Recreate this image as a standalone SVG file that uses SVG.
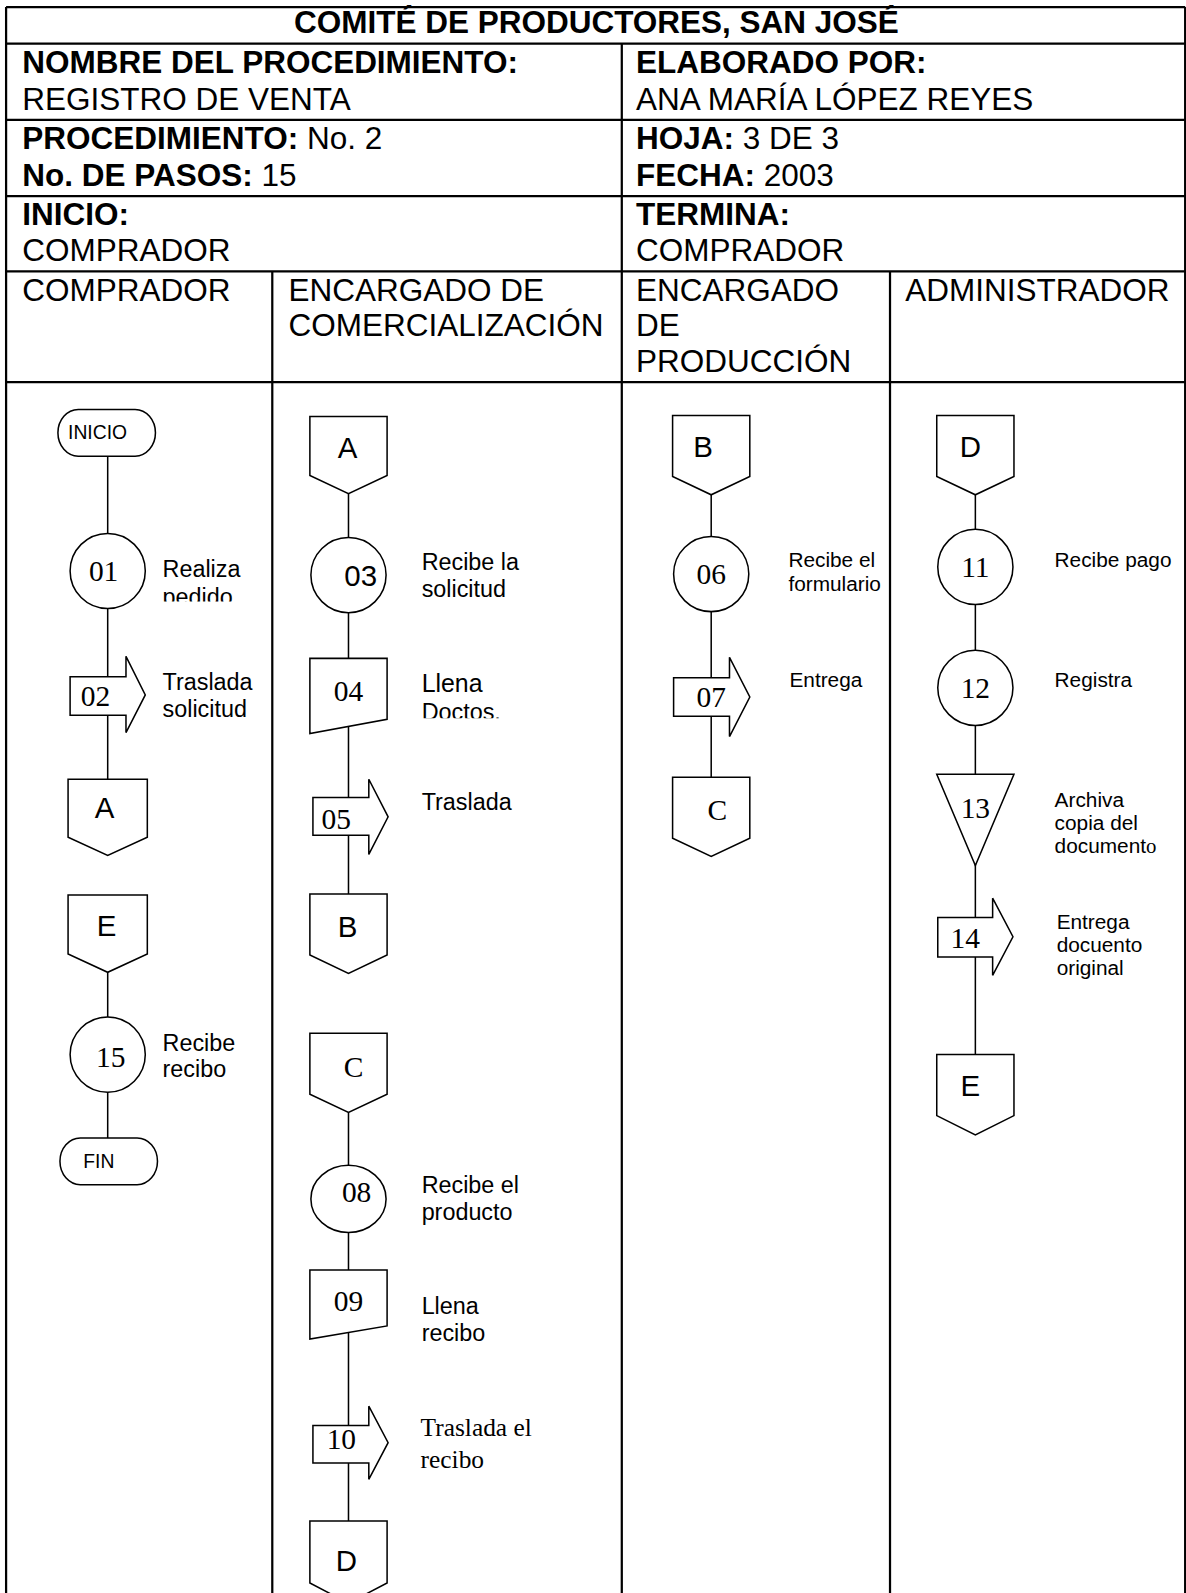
<svg xmlns="http://www.w3.org/2000/svg" width="1186" height="1593" viewBox="0 0 1186 1593">
<style>
.t{font-family:"Liberation Sans",Arial,sans-serif;font-size:31px;fill:#000}
.b{font-weight:bold}
.lbl{font-family:"Liberation Sans",Arial,sans-serif;font-size:23px;fill:#000}
.sm{font-family:"Liberation Sans",Arial,sans-serif;font-size:20.5px;fill:#000}
.ser{font-family:"Liberation Serif","Times New Roman",serif}
.num{font-family:"Liberation Serif","Times New Roman",serif;font-size:29px;text-anchor:middle;fill:#000}
.let{font-family:"Liberation Sans",Arial,sans-serif;font-size:29px;text-anchor:middle;fill:#000}
.term{font-family:"Liberation Sans",Arial,sans-serif;font-size:19px;fill:#000}
.grid{stroke:#000;stroke-width:2.2;fill:none}
.shape{fill:#fff;stroke:#000;stroke-width:1.5}
.flow{stroke:#000;stroke-width:1.5;fill:none}
</style>
<defs>
<clipPath id="clipPedido" clipPathUnits="userSpaceOnUse"><rect x="150" y="570" width="120" height="22"/></clipPath>
<clipPath id="clipDoctos" clipPathUnits="userSpaceOnUse"><rect x="405" y="690" width="120" height="17"/></clipPath>
</defs>
<rect width="1186" height="1593" fill="#fff"/>
<g transform="scale(1.016)">
<g id="table">
<path class="grid" d="M6 7H1166.5M6 43H1166.5M6 118H1166.5M6 193H1166.5M6 267H1166.5M6 376H1166.5"/>
<path class="grid" d="M6 7V1570M1166.5 7V1570M612 43V1570M268 267V1570M876 267V1570"/>
<text class="t b" x="587" y="32" text-anchor="middle">COMITÉ DE PRODUCTORES, SAN JOSÉ</text>
<text class="t b" x="22" y="72">NOMBRE DEL PROCEDIMIENTO:</text>
<text class="t" x="22" y="108">REGISTRO DE VENTA</text>
<text class="t" x="22" y="147"><tspan class="b">PROCEDIMIENTO:</tspan> No. 2</text>
<text class="t" x="22" y="183"><tspan class="b">No. DE PASOS:</tspan> 15</text>
<text class="t b" x="22" y="221">INICIO:</text>
<text class="t" x="22" y="257">COMPRADOR</text>
<text class="t b" x="626" y="72">ELABORADO POR:</text>
<text class="t" x="626" y="108">ANA MARÍA LÓPEZ REYES</text>
<text class="t" x="626" y="147"><tspan class="b">HOJA:</tspan> 3 DE 3</text>
<text class="t" x="626" y="183"><tspan class="b">FECHA:</tspan> 2003</text>
<text class="t b" x="626" y="221">TERMINA:</text>
<text class="t" x="626" y="257">COMPRADOR</text>
<text class="t" x="22" y="296">COMPRADOR</text>
<text class="t" x="284" y="296">ENCARGADO DE</text>
<text class="t" x="284" y="331">COMERCIALIZACIÓN</text>
<text class="t" x="626" y="296">ENCARGADO</text>
<text class="t" x="626" y="331">DE</text>
<text class="t" x="626" y="366">PRODUCCIÓN</text>
<text class="t" x="891" y="296">ADMINISTRADOR</text>
</g>
<g id="connectors">
<path class="flow" d="M106 449V767M106 957V1120"/>
<path class="flow" d="M343 486V880M343 1095V1497"/>
<path class="flow" d="M700 487V765"/>
<path class="flow" d="M960 487V1038"/>
</g>
<g id="inicio">
<rect class="shape" x="57" y="403" width="96" height="46" rx="20" ry="23"/>
<text class="term" x="67" y="432">INICIO</text>
</g>
<g id="op01">
<circle class="shape" cx="106" cy="562" r="37"/>
<text class="num" x="102" y="572">01</text>
<text class="lbl" x="160" y="568">Realiza</text>
<text class="lbl" x="160" y="595" clip-path="url(#clipPedido)">pedido</text>
</g>
<g id="tr02">
<path class="shape" d="M69 666H124V646L143 684L124 721V704H69Z"/>
<text class="num" x="94" y="695">02</text>
<text class="lbl" x="160" y="679">Traslada</text>
<text class="lbl" x="160" y="706">solicitud</text>
</g>
<g id="conA1">
<path class="shape" d="M67 767H145V824L106 842L67 824Z"/>
<text class="let" x="103" y="805">A</text>
</g>
<g id="conE1">
<path class="shape" d="M67 881H145V939L106 957L67 939Z"/>
<text class="let" x="105" y="921">E</text>
</g>
<g id="op15">
<circle class="shape" cx="106" cy="1038" r="37"/>
<text class="num" x="109" y="1050">15</text>
<text class="lbl" x="160" y="1034">Recibe</text>
<text class="lbl" x="160" y="1060">recibo</text>
</g>
<g id="fin">
<rect class="shape" x="59" y="1120" width="96" height="46" rx="20" ry="23"/>
<text class="term" x="82" y="1150">FIN</text>
</g>
<g id="conA2">
<path class="shape" d="M305 410H381V468L343 486L305 468Z"/>
<text class="let" x="342" y="451">A</text>
</g>
<g id="op03">
<circle class="shape" cx="343" cy="566" r="37"/>
<text class="let" x="355" y="577">03</text>
<text class="lbl" x="415" y="561">Recibe la</text>
<text class="lbl" x="415" y="588">solicitud</text>
</g>
<g id="doc04">
<path class="shape" d="M305 648H381V708L305 722Z"/>
<text class="num" x="343" y="690">04</text>
<text class="lbl" x="415" y="681" style="font-size:24.5px">Llena</text>
<text class="lbl" x="415" y="709" clip-path="url(#clipDoctos)">Doctos.</text>
</g>
<g id="tr05">
<path class="shape" d="M308 785H363V767L382 804L363 841V822H308Z"/>
<text class="num" x="331" y="816">05</text>
<text class="lbl" x="415" y="797">Traslada</text>
</g>
<g id="conB2">
<path class="shape" d="M305 880H381V940L343 958L305 940Z"/>
<text class="let" x="342" y="922">B</text>
</g>
<g id="conC2">
<path class="shape" d="M305 1017H381V1077L343 1095L305 1077Z"/>
<text class="num" x="348" y="1060">C</text>
</g>
<g id="op08">
<ellipse class="shape" cx="343" cy="1180" rx="37" ry="33"/>
<text class="num" x="351" y="1183">08</text>
<text class="lbl" x="415" y="1174">Recibe el</text>
<text class="lbl" x="415" y="1201">producto</text>
</g>
<g id="doc09">
<path class="shape" d="M305 1250H381V1305L305 1318Z"/>
<text class="num" x="343" y="1290">09</text>
<text class="lbl" x="415" y="1293">Llena</text>
<text class="lbl" x="415" y="1320">recibo</text>
</g>
<g id="tr10">
<path class="shape" d="M308 1403H363V1384L382 1420L363 1456V1440H308Z"/>
<text class="num" x="336" y="1426">10</text>
<text class="ser" x="414" y="1413" style="font-size:25px">Traslada el</text>
<text class="ser" x="414" y="1445" style="font-size:25px">recibo</text>
</g>
<g id="conD2">
<path class="shape" d="M305 1497H381V1558L343 1578L305 1558Z"/>
<text class="let" x="341" y="1546">D</text>
</g>
<g id="conB3">
<path class="shape" d="M662 409H738V469L700 487L662 469Z"/>
<text class="let" x="692" y="450">B</text>
</g>
<g id="op06">
<circle class="shape" cx="700" cy="565" r="37"/>
<text class="num" x="700" y="575">06</text>
<text class="sm" x="776" y="558">Recibe el</text>
<text class="sm" x="776" y="582">formulario</text>
</g>
<g id="tr07">
<path class="shape" d="M663 667H718V647L738 686L718 725V705H663Z"/>
<text class="num" x="700" y="696">07</text>
<text class="sm" x="777" y="676">Entrega</text>
</g>
<g id="conC3">
<path class="shape" d="M662 765H738V825L700 843L662 825Z"/>
<text class="num" x="706" y="807">C</text>
</g>
<g id="conD4">
<path class="shape" d="M922 409H998V469L960 487L922 469Z"/>
<text class="let" x="955" y="450">D</text>
</g>
<g id="op11">
<circle class="shape" cx="960" cy="558" r="37"/>
<text class="num" x="960" y="568">11</text>
<text class="sm" x="1038" y="558">Recibe pago</text>
</g>
<g id="op12">
<circle class="shape" cx="960" cy="677" r="37"/>
<text class="num" x="960" y="687">12</text>
<text class="sm" x="1038" y="676">Registra</text>
</g>
<g id="arch13">
<path class="shape" d="M922 762H998L960 852Z"/>
<text class="num" x="960" y="805">13</text>
<text class="sm" x="1038" y="794">Archiva</text>
<text class="sm" x="1038" y="817">copia del</text>
<text class="sm" x="1038" y="840">document<tspan class="ser">o</tspan></text>
</g>
<g id="tr14">
<path class="shape" d="M923 903H977V884L997 922L977 960V942H923Z"/>
<text class="num" x="950" y="933">14</text>
<text class="sm" x="1040" y="914">Entrega</text>
<text class="sm" x="1040" y="937">docuento</text>
<text class="sm" x="1040" y="960">original</text>
</g>
<g id="conE4">
<path class="shape" d="M922 1038H998V1098L960 1117L922 1098Z"/>
<text class="let" x="955" y="1079">E</text>
</g>
</g>
</svg>
